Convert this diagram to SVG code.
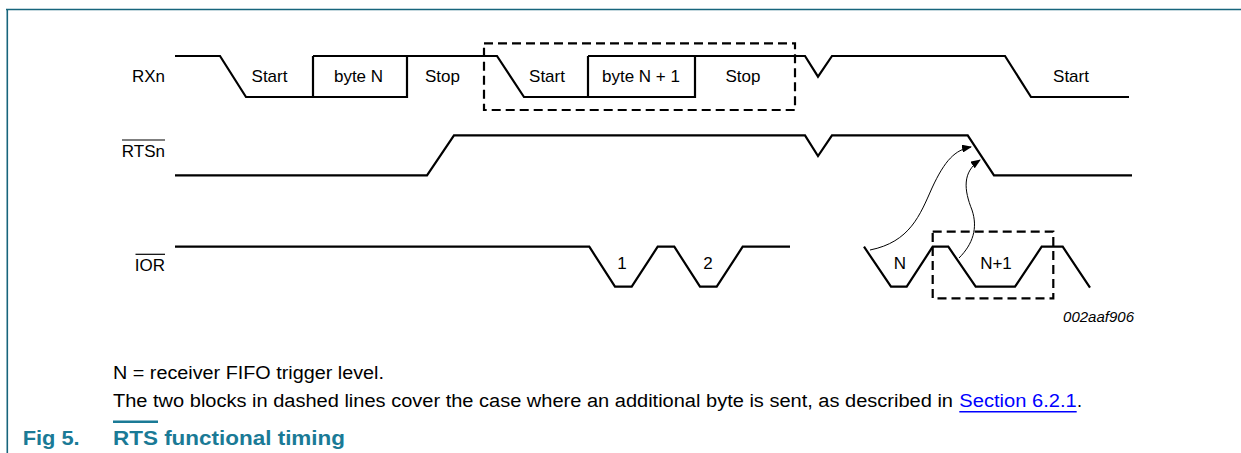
<svg xmlns="http://www.w3.org/2000/svg" width="1241" height="453" viewBox="0 0 1241 453">
<style>
.sig{fill:none;stroke:#000;stroke-width:2.2;stroke-linejoin:miter}
.dash{fill:none;stroke:#000;stroke-width:2.2;stroke-dasharray:9 5}
.lbl{font-family:"Liberation Sans",Arial,sans-serif;font-size:17px;fill:#000}
.num{font-family:"Liberation Sans",Arial,sans-serif;font-size:15px;font-style:italic;fill:#000}
.body{font-family:"Liberation Sans",Arial,sans-serif;font-size:18px;fill:#000}
.cap{font-family:"Liberation Sans",Arial,sans-serif;font-size:21px;font-weight:bold;fill:#1a7a96}
.conn{fill:none;stroke:#000;stroke-width:1}
.frame{stroke:#17657c;stroke-width:1.6;fill:none}
</style>
<defs>
<marker id="ah" markerWidth="10" markerHeight="8" refX="9" refY="4" orient="auto" markerUnits="userSpaceOnUse">
<path d="M0,0 L10,4 L0,8 Z" fill="#000"/>
</marker>
</defs>
<rect width="1241" height="453" fill="#fff"/>
<g id="frame">
<path class="frame" d="M6,9.5 H1241 M7.3,9 V453"/>
</g>
<g id="rxn">
<text class="lbl" x="165" y="81.5" text-anchor="end">RXn</text>
<path class="sig" d="M175,56 H220 L246,97 H313 M313,56 V97 H407 V56 M313,56 H497 L524,97 H588 M588,56 V97 H695 V56 M588,56 H805 L818,76.7 L832,56 H1005 L1031,97 H1129"/>
<text class="lbl" x="269.5" y="81.5" text-anchor="middle">Start</text>
<text class="lbl" x="358.5" y="81.5" text-anchor="middle">byte N</text>
<text class="lbl" x="442.5" y="81.5" text-anchor="middle">Stop</text>
<text class="lbl" x="547" y="81.5" text-anchor="middle">Start</text>
<text class="lbl" x="641" y="81.5" text-anchor="middle">byte N + 1</text>
<text class="lbl" x="743" y="81.5" text-anchor="middle">Stop</text>
<text class="lbl" x="1071" y="81.5" text-anchor="middle">Start</text>
</g>
<g id="rtsn">
<text class="lbl" x="165" y="156.7" text-anchor="end">RTSn</text>
<line x1="122" y1="140" x2="165" y2="140" stroke="#000" stroke-width="1.2"/>
<path class="sig" d="M175,175.3 H427 L454,135.3 H805 L818,156 L832,135.3 H967.7 L994,175.3 H1132"/>
</g>
<g id="ior">
<text class="lbl" x="165" y="270.5" text-anchor="end">IOR</text>
<line x1="135.5" y1="254.3" x2="165" y2="254.3" stroke="#000" stroke-width="1.2"/>
<path class="sig" d="M175,246.7 H589.3 L615,286.7 H631.7 L657.7,246.7 H674.3 L700,286.7 H716.7 L742.7,246.7 H790"/>
<path class="sig" d="M864,246.7 L891,286.7 H906.7 L932.7,246.7 H948.3 L975.7,286.7 H1015 L1041.7,246.7 H1062.7 L1090,287.7"/>
<text class="lbl" x="622" y="268.5" text-anchor="middle">1</text>
<text class="lbl" x="708" y="268.5" text-anchor="middle">2</text>
<text class="lbl" x="900" y="268.5" text-anchor="middle">N</text>
<text class="lbl" x="996" y="268.5" text-anchor="middle">N+1</text>
</g>
<g id="dashed-boxes">
<rect id="box1" class="dash" x="484" y="43.3" width="311" height="66.7"/>
<rect id="box2" class="dash" x="932.7" y="231.7" width="120.6" height="66.6"/>
</g>
<g id="connectors">
<path class="conn" marker-end="url(#ah)" d="M870,250 C910,242 920,215 932,188 C945,160 955,150 971,147"/>
<path class="conn" marker-end="url(#ah)" d="M959,258 C973,244 978,228 972,210 C964,190 962,172 980,160"/>
</g>
<text class="num" x="1134" y="322" text-anchor="end">002aaf906</text>
<g id="notes">
<text class="body" x="113" y="379" textLength="271" lengthAdjust="spacingAndGlyphs">N = receiver FIFO trigger level.</text>
<text class="body" x="113" y="406.5" textLength="840" lengthAdjust="spacingAndGlyphs">The two blocks in dashed lines cover the case where an additional byte is sent, as described in</text>
<text class="body" x="959.3" y="406.5" textLength="117.4" lengthAdjust="spacingAndGlyphs" style="fill:#0000ff">Section 6.2.1</text>
<line x1="959.3" y1="411.7" x2="1076.7" y2="411.7" stroke="#0000ff" stroke-width="1.5"/>
<text class="body" x="1077" y="406.5">.</text>
</g>
<g id="caption">
<text class="cap" x="22.7" y="445" textLength="57" lengthAdjust="spacingAndGlyphs">Fig 5.</text>
<text class="cap" x="113" y="445" textLength="232" lengthAdjust="spacingAndGlyphs">RTS functional timing</text>
<line x1="113" y1="421.7" x2="158" y2="421.7" stroke="#1a7a96" stroke-width="2.4"/>
</g>
</svg>
